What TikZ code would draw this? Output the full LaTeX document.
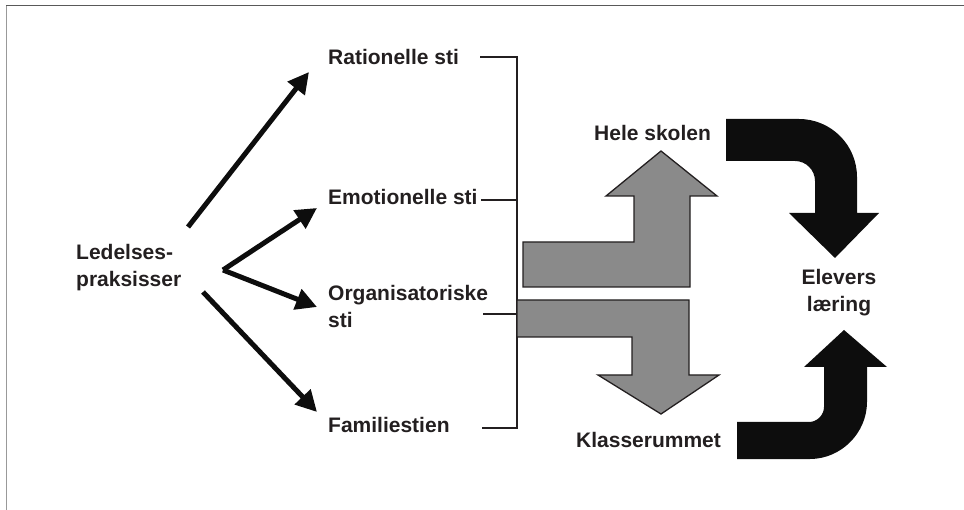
\documentclass[tikz,border=0pt]{standalone}
\usepackage{fontspec}
\setmainfont{Liberation Sans}
\usetikzlibrary{arrows.meta}
\definecolor{txt}{HTML}{231F20}
\definecolor{arrgray}{HTML}{8A8A8A}
\definecolor{blk}{HTML}{0D0D0D}
\tikzset{
  lbl/.style={inner sep=0pt, anchor=base west, text=txt, font=\fontsize{21}{27.5}\selectfont\bfseries},
  thinarrow/.style={line width=5pt, draw=blk, -{Triangle[length=21pt,width=21pt]}},
  bracketline/.style={line width=2pt, draw=txt},
  grayarrow/.style={fill=arrgray, draw=txt, line width=1.3pt, line join=miter},
  blackarrow/.style={fill=blk, draw=none}
}
\begin{document}
\begin{tikzpicture}[x=1pt,y=-1pt]
\useasboundingbox (0,0) rectangle (964,510);
% frame
\draw[line width=1.5pt, draw=black!40] (6.5,510) -- (6.5,5.5);
\draw[line width=1.5pt, draw=black!65] (6,5.5) -- (964,5.5);

% labels (multi-line nodes: base anchor = baseline of last line)
\node[lbl, align=left] (led) at (76,287) {Ledelses-\\praksisser};
\node[lbl] (rat) at (328,65) {Rationelle sti};
\node[lbl] (emo) at (328,205) {Emotionelle sti};
\node[lbl, align=left] (org) at (328,328) {Organisatoriske\\sti};
\node[lbl] (fam) at (328,432) {Familiestien};
\node[lbl] (hele) at (594,141) {Hele skolen};
\node[lbl] (klas) at (576,447) {Klasserummet};
\node[lbl, align=center, anchor=base] (elev) at (839,312) {Elevers\\læring};

% arrows from Ledelses-praksisser
\coordinate (s1) at (188,227);
\coordinate (t1) at (309,72);
\coordinate (v) at (223,270);
\coordinate (t2) at (317,208);
\coordinate (t3) at (317,307);
\coordinate (s4) at (203,292);
\coordinate (t4) at (317,412);
\draw[thinarrow] (s1) -- (t1);
\draw[thinarrow] (v) -- (t2);
\draw[thinarrow] (v) -- (t3);
\draw[thinarrow] (s4) -- (t4);

% bracket
\coordinate (bt) at (517,57);
\coordinate (bb) at (517,428);
\coordinate (b1) at (481,57);
\coordinate (b2) at (481,200);
\coordinate (b2r) at (517,200);
\coordinate (b3) at (483,314);
\coordinate (b3r) at (517,314);
\coordinate (b4) at (483,428);
\draw[bracketline, line cap=rect] (b1) -- (bt) -- (bb) -- (b4);
\draw[bracketline] (b2) -- (b2r);
\draw[bracketline] (b3) -- (b3r);

% gray arrows
\draw[grayarrow] (523,287) -- (523,242) -- (634,242) -- (634,196) -- (606,196)
  -- (661,151) -- (717,196) -- (690,196) -- (690,287) -- cycle;
\draw[grayarrow] (517,300) -- (689,300) -- (689,375) -- (719,375) -- (661,414)
  -- (598,375) -- (632,375) -- (632,337) -- (517,337) -- cycle;

% black curved arrows
\fill[blackarrow] (726,119) -- (799,119) .. controls (831,119) and (857,145) .. (857,177)
  -- (857,213) -- (879,213) -- (835,258) -- (789,213) -- (815,213) -- (815,181)
  .. controls (815,170) and (806,161) .. (795,161) -- (726,161) -- cycle;
\fill[blackarrow] (737,459) -- (810,459) .. controls (841,459) and (867,433) .. (867,402)
  -- (867,367) -- (887,367) -- (844,330) -- (804,367) -- (824,367) -- (824,407)
  .. controls (824,415) and (817,422) .. (809,422) -- (737,422) -- cycle;
\end{tikzpicture}
\end{document}
